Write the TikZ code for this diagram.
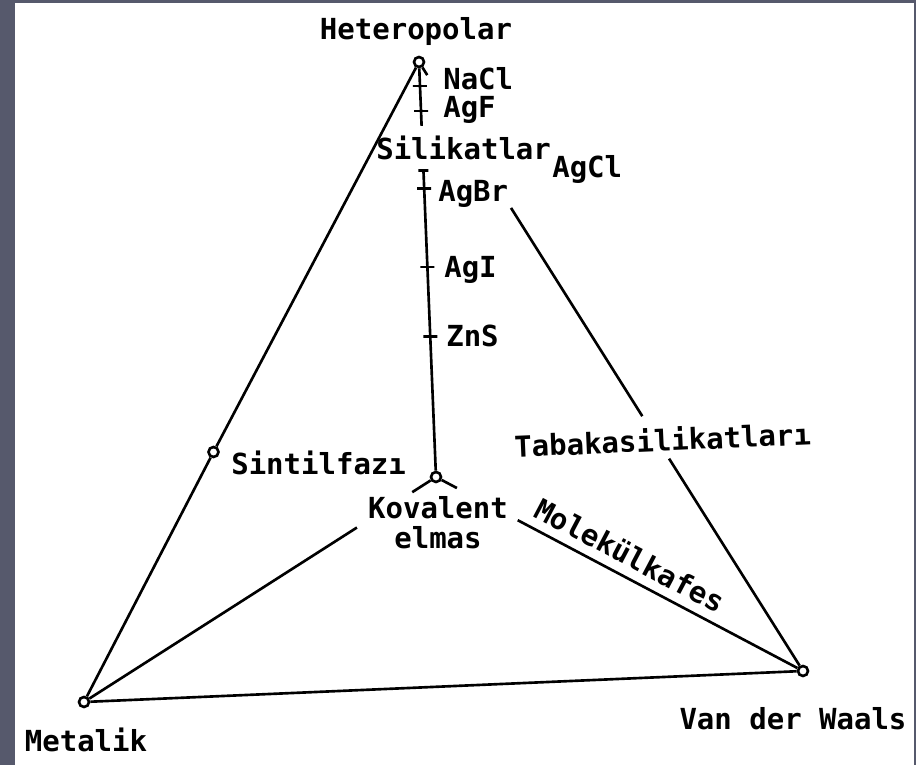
\documentclass[tikz,border=0pt]{standalone}
\usepackage{fontspec}
\setmonofont{DejaVu Sans Mono}

\definecolor{slate}{RGB}{86,89,108}

\begin{document}
\begin{tikzpicture}[line width=1.5pt]

\tikzstyle{vertex}=[draw,shape=circle,minimum size=0.2cm,inner sep=0pt];
\tikzstyle{lbl}=[font=\ttfamily\bfseries\fontsize{16.5}{17}\selectfont,inner sep=0pt];
\tikzstyle{tick}=[draw,minimum width=0.28cm,minimum height=0pt,inner sep=0pt];

% Slide background
\fill[slate] (0,0) rectangle (18.32,15.30);
\fill[white] (0.30,0) rectangle (18.28,15.24);

% Corners of the tetrahedron
\node[vertex] (het) at (8.38,14.06) {};
\node[vertex] (met) at (1.68,1.26) {};
\node[vertex] (vdw) at (16.06,1.88) {};
\node[vertex] (kov) at (8.72,5.76) {};
\node[vertex] (sin) at (4.27,6.26) {};

% Names of the corners
\node[lbl,anchor=base] (lhet) at (8.32,14.50) {Heteropolar};
\node[lbl,anchor=base] (lmet) at (1.72,0.26) {Metalik};
\node[lbl,anchor=base] (lvdw) at (15.86,0.70) {Van der Waals};
\node[lbl,align=center] (lkov) at (8.76,4.84) {Kovalent\\elmas};
\node[lbl,anchor=base west] (lsin) at (4.60,5.80) {Sintilfazı};

% Compounds and groups
\node[lbl,anchor=base west] (lnacl) at (8.84,13.50) {NaCl};
\node[lbl,anchor=base west] (lagf) at (8.84,12.94) {AgF};
\node[lbl,anchor=base west] (lsil) at (7.50,12.10) {Silikatlar};
\node[lbl,anchor=base west] (lagcl) at (11.02,11.74) {AgCl};
\node[lbl,anchor=base west] (lagbr) at (8.74,11.26) {AgBr};
\node[lbl,anchor=base west] (lagi) at (8.86,9.74) {AgI};
\node[lbl,anchor=base west] (lzns) at (8.90,8.36) {ZnS};
\node[lbl,anchor=base,rotate=2.5] (ltab) at (13.26,6.28) {Tabakasilikatları};
\node[lbl,anchor=base,rotate=-27.8] (lmol) at (12.50,4.00) {Molekülkafes};

% Where the links break for the labels
\path (het) -- (vdw) coordinate[pos=0.013] (hv1) coordinate[pos=0.235] (hv2)
  coordinate[pos=0.583] (hv3) coordinate[pos=0.654] (hv4);
\path (kov) -- (met) coordinate[pos=0.054] (km1) coordinate[pos=0.216] (km2);
\path (kov) -- (vdw) coordinate[pos=0.043] (kw1) coordinate[pos=0.214] (kw2);
\path (kov) -- (het) coordinate[pos=0.746] (kh1) coordinate[pos=0.857] (kh2);

% Links between the corners
\draw (het) -- (sin) -- (met)
(met) -- (vdw)
(het) -- (hv1) (hv2) -- (hv3) (hv4) -- (vdw)
(kov) -- (km1) (km2) -- (met)
(kov) -- (kw1) (kw2) -- (vdw)
(kov) -- (kh1) (kh2) -- (het);

% Marks on the line Kovalent - Heteropolar
\foreach \p/\n in {0.333/zns,0.506/agi,0.701/agbr,0.894/agf,0.956/nacl}
  \path (kov) -- (het) node[tick,pos=\p] (t\n) {};
\path (kov) -- (het) node[tick,pos=0.746,minimum width=0.2cm] (tend) {};

\end{tikzpicture}
\end{document}
